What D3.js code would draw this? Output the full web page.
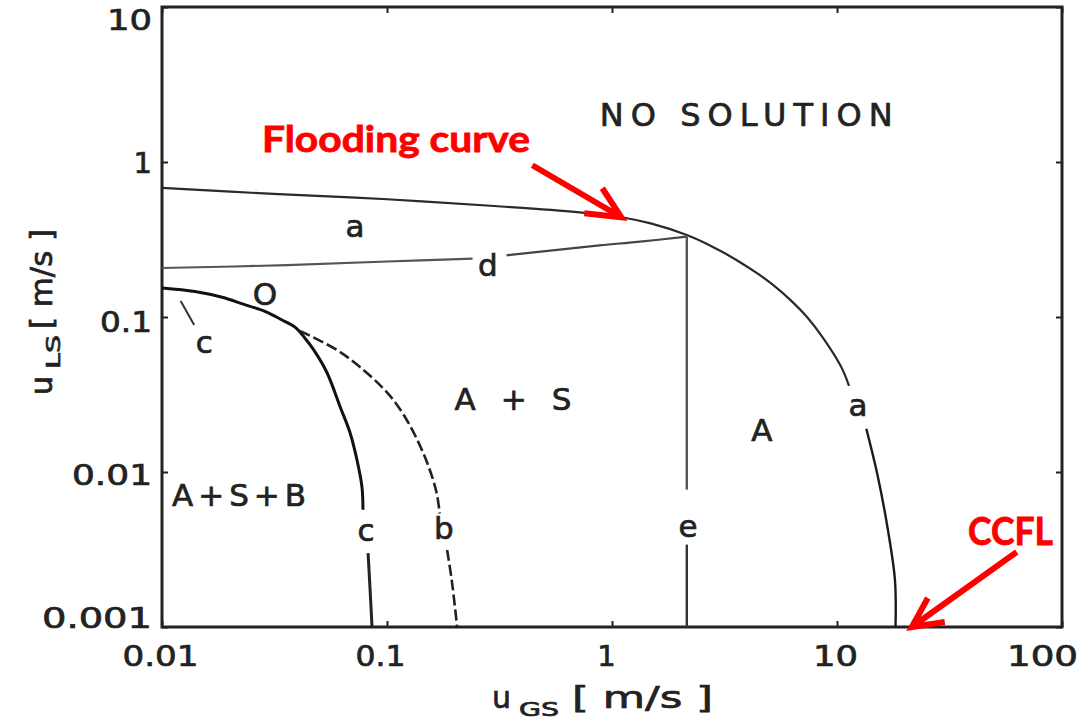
<!DOCTYPE html>
<html>
<head>
<meta charset="utf-8">
<script src="https://cdn.jsdelivr.net/npm/d3@7"></script>
<style>
  body { margin: 0; background: #fff; }
  svg { display: block; }
</style>
</head>
<body>
<svg id="chart" width="1089" height="721"></svg>
<script>
// ---- axis ticks ----
const xTicks = [0.01, 0.1, 1, 10, 100];
const xTickLabels = ["0.01", "0.1", "1", "10", "100"];
const yTicks = [0.001, 0.01, 0.1, 1, 10];
const yTickLabels = ["0.001", "0.01", "0.1", "1", "10"];

// ---- flooding curve (a): upper branch and lower branch around its label ----
const floodUpperUGS = [0.01, 0.033, 0.1, 0.3, 0.7, 1.1, 1.5, 2.15, 2.644, 3.113, 3.707, 4.41, 5.195, 6.18, 7.356, 8.667, 10.42, 11.31];
const floodUpperULS = [0.68, 0.62, 0.575, 0.52, 0.475, 0.44, 0.40, 0.338, 0.296, 0.2615, 0.2257, 0.1917, 0.1609, 0.1295, 0.1, 0.0734, 0.0479, 0.036];
const floodLowerUGS = [13.5, 15.2, 16.85, 18.1, 18.2];
const floodLowerULS = [0.019, 0.0093, 0.0042, 0.002, 0.001];

// ---- curve d ----
const dLeftUGS = [0.01, 0.036, 0.1, 0.24];
const dLeftULS = [0.207, 0.216, 0.228, 0.238];
const dRightUGS = [0.34, 0.88, 1.3, 2.15];
const dRightULS = [0.25, 0.29, 0.305, 0.33];

// ---- curve e (vertical) ----
const eUGS = [2.15, 2.15];
const eTopULS = [0.33, 0.0077];
const eBottomULS = [0.0034, 0.001];

// ---- curve c ----
const cUpperUGS = [0.01, 0.014, 0.0185, 0.023, 0.029, 0.034, 0.039, 0.0432, 0.047, 0.054, 0.062, 0.0685, 0.0736, 0.0774, 0.0782];
const cUpperULS = [0.154, 0.146, 0.134, 0.121, 0.108, 0.096, 0.086, 0.073, 0.062, 0.044, 0.0262, 0.0179, 0.0119, 0.008, 0.0057];
const cLowerUGS = [0.0824, 0.084, 0.0858];
const cLowerULS = [0.003, 0.0018, 0.001];
const cLeaderUGS = [0.0121, 0.0139];
const cLeaderULS = [0.127, 0.0887];

// ---- curve b (dashed) ----
const bUpperUGS = [0.041, 0.06, 0.0759, 0.095, 0.1092, 0.1247, 0.141, 0.155, 0.1663, 0.1715];
const bUpperULS = [0.0813, 0.0612, 0.0475, 0.0353, 0.0279, 0.0207, 0.0145, 0.0103, 0.0073, 0.0054];
const bLowerUGS = [0.185, 0.194, 0.205];
const bLowerULS = [0.00314, 0.002, 0.001];

// ---- region and curve labels ----
const labelText = ["NO SOLUTION", "a", "d", "O", "c", "A + S", "A", "a", "A + S + B", "c", "b", "e"];
const labelUGS  = [3.95, 0.072, 0.281, 0.0287, 0.0154, 0.363, 4.64, 12.4, 0.022, 0.0807, 0.179, 2.18];
const labelULS  = [2.0, 0.385, 0.216, 0.141, 0.069, 0.0296, 0.0187, 0.027, 0.00711, 0.00423, 0.00435, 0.00449];

// ---- annotations ----
const floodNoteUGS = 1.1, floodNoteULS = 0.44;
const ccflUGS = 21.5, ccflULS = 0.001;

const zip = (xs, ys) => xs.map((v, i) => [v, ys[i]]);

const svg = d3.select("#chart");
const x = d3.scaleLog().domain([0.01, 100]).range([162, 1062]);
const y = d3.scaleLog().domain([0.001, 10]).range([627, 7]);

const ink = "#222";
const tickFont = "'DejaVu Sans', sans-serif";
// slightly heavier type, like the scanned lettering
function heavy(sel) {
  return sel.attr("stroke", ink).attr("stroke-width", 0.7).attr("paint-order", "stroke");
}

// frame
svg.append("rect")
  .attr("x", x(0.01)).attr("y", y(10))
  .attr("width", x(100) - x(0.01)).attr("height", y(0.001) - y(10))
  .attr("fill", "none").attr("stroke", ink).attr("stroke-width", 3);

// inward ticks on all four sides
const tickLen = 6;
const axes = [
  [d3.axisBottom(x).tickValues(xTicks), `translate(0,${y(0.001)})`],
  [d3.axisTop(x).tickValues(xTicks), `translate(0,${y(10)})`],
  [d3.axisLeft(y).tickValues(yTicks), `translate(${x(0.01)},0)`],
  [d3.axisRight(y).tickValues(yTicks), `translate(${x(100)},0)`]
];
axes.forEach(([ax, tr]) => {
  const g = svg.append("g").attr("transform", tr)
    .call(ax.tickSize(-tickLen).tickFormat(""));
  g.select(".domain").remove();
  g.selectAll(".tick line").attr("stroke", ink).attr("stroke-width", 2);
});

// tick labels
const xLabelWidth = { "0.01": 76, "0.1": 50, "10": 45, "100": 71 };
const xLabelShift = { "0.01": -2, "0.1": -7, "1": -6, "10": -2, "100": -20 };
const gxl = svg.append("g").attr("transform", `translate(0,${y(0.001)})`)
  .call(d3.axisBottom(x).tickValues(xTicks).tickSize(0).tickPadding(18)
    .tickFormat((d, i) => xTickLabels[i]));
gxl.select(".domain").remove();
gxl.selectAll(".tick text")
  .attr("font-family", tickFont).attr("font-size", 29).attr("fill", ink)
  .attr("dx", function () { return xLabelShift[this.textContent] || 0; })
  .call(heavy)
  .each(function () {
    const w = xLabelWidth[this.textContent];
    if (w) d3.select(this).attr("textLength", w).attr("lengthAdjust", "spacingAndGlyphs");
  });

const yLabelWidth = { "0.001": 110, "0.01": 80, "0.1": 52, "10": 45 };
const yLabelShift = { "0.001": -9, "0.01": 3, "0.1": 5, "1": 1, "10": 13 };
const gyl = svg.append("g").attr("transform", `translate(${x(0.01)},0)`)
  .call(d3.axisLeft(y).tickValues(yTicks).tickSize(0).tickPadding(10)
    .tickFormat((d, i) => yTickLabels[i]));
gyl.select(".domain").remove();
gyl.selectAll(".tick text")
  .attr("font-family", tickFont).attr("font-size", 29).attr("fill", ink)
  .attr("y", function () { return yLabelShift[this.textContent] || 0; })
  .call(heavy)
  .each(function () {
    const w = yLabelWidth[this.textContent];
    if (w) d3.select(this).attr("textLength", w).attr("lengthAdjust", "spacingAndGlyphs");
  });

// axis titles: u with a subscript, then the unit
function axisTitle(g, sub, subAt, subLen, unitAt, unitLen) {
  g.append("text").attr("x", 0).attr("y", 0).text("u")
    .attr("font-family", tickFont).attr("font-size", 30).attr("fill", ink).call(heavy);
  g.append("text").attr("x", subAt).attr("y", 8).text(sub)
    .attr("font-family", tickFont).attr("font-size", 19).attr("fill", ink)
    .attr("textLength", subLen).attr("lengthAdjust", "spacingAndGlyphs").call(heavy);
  g.append("text").attr("x", unitAt).attr("y", 0).text("[ m/s ]")
    .attr("font-family", tickFont).attr("font-size", 30).attr("fill", ink)
    .attr("textLength", unitLen).attr("lengthAdjust", "spacingAndGlyphs").call(heavy);
}
axisTitle(svg.append("g").attr("transform", "translate(492,708)"), "GS", 27, 40, 80, 141);
axisTitle(svg.append("g").attr("transform", "translate(52,395) rotate(-90)"), "LS", 26, 34, 66, 100);

// curves
const line = d3.line().x(d => x(d[0])).y(d => y(d[1])).curve(d3.curveCatmullRom.alpha(0.5));
function curve(pts, width, color, dash) {
  svg.append("path").attr("d", line(pts))
    .attr("fill", "none").attr("stroke", color).attr("stroke-width", width)
    .attr("stroke-linecap", "butt")
    .attr("stroke-dasharray", dash || null);
}
curve(zip(floodUpperUGS, floodUpperULS), 2.2, "#2a2a2a");
curve(zip(floodLowerUGS, floodLowerULS), 2.4, "#1a1a1a");
curve(zip(dLeftUGS, dLeftULS), 2.2, "#555");
curve(zip(dRightUGS, dRightULS), 2.2, "#444");
curve(zip(eUGS, eTopULS), 2.4, "#555");
curve(zip(eUGS, eBottomULS), 2.4, "#333");
curve(zip(cUpperUGS, cUpperULS), 3, "#111");
curve(zip(cLowerUGS, cLowerULS), 3, "#222");
curve(zip(cLeaderUGS, cLeaderULS), 2, "#333");
curve(zip(bUpperUGS, bUpperULS), 2.6, "#222", "11,4");
curve(zip(bLowerUGS, bLowerULS), 2.6, "#222", "11,4");

// labels on the plot
labelText.forEach((t, i) => {
  const txt = svg.append("text")
    .attr("x", x(labelUGS[i])).attr("y", y(labelULS[i]))
    .attr("text-anchor", "middle").attr("dominant-baseline", "central")
    .attr("font-family", tickFont).attr("fill", ink)
    .attr("font-size", t === "NO SOLUTION" ? 32 : 31)
    .call(heavy)
    .text(t);
  if (t === "NO SOLUTION") txt.attr("textLength", 293).attr("lengthAdjust", "spacing");
  if (t === "A + S") txt.attr("textLength", 117).attr("lengthAdjust", "spacing");
  if (t === "A + S + B") txt.attr("textLength", 134).attr("lengthAdjust", "spacing");
});

// red call-outs
const red = "#ff0000";
const noteFont = "Lato, 'Open Sans', sans-serif";
function arrow(tx, ty, tail, arm1, arm2) {
  const g = svg.append("g").attr("fill", "none").attr("stroke", red).attr("stroke-width", 6);
  g.append("line").attr("x1", tx + tail[0]).attr("y1", ty + tail[1]).attr("x2", tx).attr("y2", ty);
  g.append("polyline")
    .attr("points", [[tx + arm1[0], ty + arm1[1]], [tx, ty], [tx + arm2[0], ty + arm2[1]]].map(p => p.join(",")).join(" "))
    .attr("stroke-linejoin", "miter");
}
arrow(x(floodNoteUGS), y(floodNoteULS), [-89, -52], [-37, -4], [-19, -29]);
svg.append("text").attr("x", 262).attr("y", 152).text("Flooding curve")
  .attr("font-family", noteFont).attr("font-weight", 700).attr("font-size", 36)
  .attr("fill", red).attr("stroke", red).attr("stroke-width", 0.8)
  .attr("textLength", 268).attr("lengthAdjust", "spacingAndGlyphs");

arrow(x(ccflUGS), y(ccflULS), [105, -75], [16, -29], [33, -5]);
svg.append("text").attr("x", 968).attr("y", 545).text("CCFL")
  .attr("font-family", noteFont).attr("font-weight", 700).attr("font-size", 39)
  .attr("fill", red).attr("stroke", red).attr("stroke-width", 0.8)
  .attr("textLength", 85).attr("lengthAdjust", "spacingAndGlyphs");
</script>
</body>
</html>
